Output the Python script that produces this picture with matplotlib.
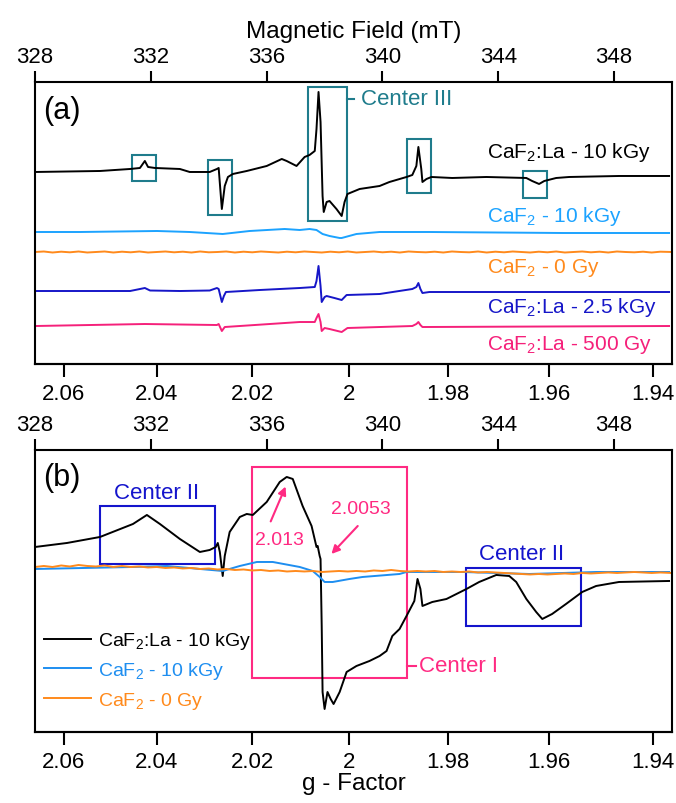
import matplotlib
matplotlib.use("Agg")
import matplotlib.pyplot as plt
from matplotlib.patches import Rectangle

plt.rcParams['font.family'] = ['Liberation Sans', 'DejaVu Sans']
plt.rcParams['mathtext.fontset'] = 'custom'
plt.rcParams['mathtext.rm'] = 'Liberation Sans'
plt.rcParams['mathtext.it'] = 'Liberation Sans'
plt.rcParams['mathtext.default'] = 'regular'

# g * B (mT) for this spectrometer frequency
G_CONST = 677.7

#*************************************************************************
#                       Panel (a) - stacked spectra (field mT, signal)
#*************************************************************************
la10k_a = [(328.00, 0), (330.24, 1), (331.28, 3), (331.62, 4), (331.79, 11), (331.90, 5),
           (332.14, 4), (333.00, 3), (333.34, 0), (334.03, 0), (334.28, 3), (334.34, 4),
           (334.45, -37), (334.55, -14), (334.66, -5), (334.83, -2), (335.31, 1), (336.00, 6),
           (336.52, 13), (336.69, 11), (337.03, 6), (337.31, 15), (337.48, 17), (337.66, 21),
           (337.72, 43), (337.79, 80), (337.86, 50), (337.93, -24), (337.97, -40), (338.07, -30),
           (338.17, -29), (338.41, -37), (338.59, -44), (338.69, -30), (338.79, -22), (339.21, -17),
           (339.90, -14), (340.24, -10), (340.83, -5), (341.03, -3), (341.17, 6), (341.24, 25),
           (341.34, 3), (341.38, -10), (341.52, -7), (341.69, -5), (342.41, -6), (343.59, -5),
           (344.97, -6), (345.17, -9), (345.41, -12), (345.59, -9), (346.00, -6), (346.45, -5),
           (348.17, -4), (349.90, -4)]
caf10k_a = [(328.00, 0), (329.55, 0), (332.21, 1), (333.34, 0), (334.48, -2), (335.41, 1),
            (336.62, 3), (337.14, 2), (337.48, 3), (337.72, 2), (337.93, -2), (338.17, -4),
            (338.52, -6), (338.59, -6), (339.10, -2), (339.90, 0), (341.62, 0), (346.21, -1),
            (349.90, -1)]
caf0_a = [(328.0, 0), (328.3, 0.5), (328.6, -0.5), (328.9, 0.3), (329.2, -0.3), (329.5, 0.5),
          (329.8, -0.5), (330.1, 0), (330.4, 0.5), (330.7, -0.5), (331.0, 0.3), (331.3, -0.3),
          (331.6, 0.5), (331.9, -0.5), (332.2, 0), (332.5, 0.5), (332.8, -0.3), (333.1, 0.3),
          (333.4, -0.5), (333.7, 0.5), (334.0, -0.3), (334.3, 0), (334.6, 0.5), (334.9, -0.5),
          (335.2, 0.3), (335.5, -0.3), (335.8, 0.5), (336.1, 0), (336.4, -0.5), (336.7, 0.3),
          (337.0, -0.3), (337.3, 0.5), (337.6, 0), (337.9, -0.5), (338.2, 0.3), (338.5, -0.3),
          (338.8, 0.5), (339.1, -0.5), (339.4, 0), (339.7, 0.5), (340.0, -0.3), (340.3, 0.3),
          (340.6, -0.5), (340.9, 0.5), (341.2, 0), (341.5, -0.3), (341.8, 0.3), (342.1, -0.5),
          (342.4, 0.5), (342.7, 0), (343.0, -0.3), (343.3, 0.5), (343.6, -0.5), (343.9, 0.3),
          (344.2, -0.3), (344.5, 0.5), (344.8, 0), (345.1, -0.5), (345.4, 0.3), (345.7, -0.3),
          (346.0, 0.5), (346.3, -0.5), (346.6, 0), (346.9, 0.5), (347.2, -0.3), (347.5, 0.3),
          (347.8, -0.5), (348.1, 0.5), (348.4, 0), (348.7, -0.3), (349.0, 0.3), (349.3, -0.5),
          (349.6, 0.3), (350.0, 0)]
la2k5_a = [(328.00, 0), (331.28, 0), (331.79, 3), (331.97, 0.5), (333.00, 0), (334.03, 0.5),
           (334.28, 3), (334.34, 2), (334.45, -11), (334.52, -5), (334.59, -1), (335.76, 1),
           (337.14, 3), (337.66, 4), (337.72, 10), (337.79, 25), (337.86, 5), (337.90, -11),
           (338.00, -6), (338.07, -5), (338.34, -7), (338.59, -9), (338.76, -4), (339.90, -3),
           (341.03, 2), (341.17, 4), (341.24, 8), (341.31, 2), (341.38, -2), (341.62, -1),
           (344.03, -1), (349.90, -1)]
la500_a = [(328.00, 0), (331.79, 2), (334.28, 1), (334.34, 2), (334.45, -5), (334.55, -1),
           (337.14, 4), (337.66, 4), (337.72, 8), (337.79, 12), (337.86, 4), (337.90, -5),
           (338.00, -2), (338.17, -3), (338.59, -6), (338.79, -2), (341.03, 0), (341.17, 2),
           (341.24, 4), (341.31, 1), (341.38, -1), (349.90, 0)]

labels_a = ['CaF$_2$:La - 10 kGy', 'CaF$_2$ - 10 kGy', 'CaF$_2$ - 0 Gy',
            'CaF$_2$:La - 2.5 kGy', 'CaF$_2$:La - 500 Gy']
offsets_a = [192, 132, 112, 73, 38]
label_y_a = [212, 148, 97, 58, 20]
colors_a = ['black', '#1CA3FF', '#FF8A1C', '#1616C8', '#F5207A']

#*************************************************************************
#                       Panel (b) - overlaid spectra
#*************************************************************************
la10k_b = [(328.00, 185), (329.10, 189), (330.24, 195), (331.38, 208), (331.86, 217), (332.31, 208),
           (333.00, 193), (333.69, 180), (334.03, 182), (334.24, 185), (334.31, 189), (334.38, 180),
           (334.48, 156), (334.55, 176), (334.72, 200), (335.07, 215), (335.31, 218), (335.52, 217),
           (336.00, 230), (336.45, 250), (336.69, 255), (336.90, 253), (337.24, 226), (337.55, 206),
           (337.72, 185), (337.76, 186), (337.83, 176), (337.86, 173), (337.90, 106), (337.93, 40),
           (338.00, 23), (338.10, 40), (338.21, 33), (338.31, 28), (338.52, 40), (338.76, 60),
           (339.10, 66), (339.55, 71), (339.90, 76), (340.14, 81), (340.34, 96), (340.59, 103),
           (340.83, 116), (341.10, 131), (341.21, 153), (341.31, 143), (341.38, 126), (341.72, 130),
           (342.21, 133), (342.90, 143), (343.34, 150), (343.93, 157), (344.38, 156), (344.62, 150),
           (344.97, 133), (345.31, 120), (345.52, 113), (345.86, 118), (346.34, 128), (346.90, 140),
           (347.38, 146), (348.17, 150), (349.90, 151)]
caf10k_b = [(328.00, 163), (331.38, 165), (332.55, 166), (333.69, 163), (334.48, 161), (335.07, 166),
            (335.66, 170), (336.21, 170), (337.14, 165), (337.59, 161), (337.83, 155), (338.00, 150),
            (338.28, 150), (338.86, 153), (339.31, 155), (340.59, 158), (340.83, 160), (342.76, 160),
            (345.07, 158), (347.38, 160), (349.90, 160)]
caf0_b = [(328.0, 165), (328.3, 166), (328.6, 165), (328.9, 166.5), (329.2, 165.5), (329.5, 167),
          (329.8, 166), (330.1, 165.5), (330.4, 166.5), (330.7, 165), (331.0, 166), (331.3, 165),
          (331.6, 165.5), (331.9, 164.5), (332.2, 165), (332.5, 164), (332.8, 164.5), (333.1, 163.5),
          (333.4, 164), (333.7, 163), (334.0, 163.5), (334.3, 162.5), (334.6, 163), (334.9, 162),
          (335.2, 162.5), (335.5, 161.5), (335.8, 162), (336.1, 161), (336.4, 161.5), (336.7, 160.5),
          (337.0, 161), (337.3, 160.5), (337.6, 161), (337.9, 160), (338.2, 160.5), (338.5, 161),
          (338.8, 160.5), (339.1, 161), (339.4, 160.5), (339.7, 161.5), (340.0, 161), (340.3, 162),
          (340.6, 161), (340.9, 160.5), (341.2, 161), (341.5, 160.5), (341.8, 161), (342.1, 160),
          (342.4, 160.5), (342.7, 160), (343.0, 160.5), (343.3, 159.5), (343.6, 160), (343.9, 159.5),
          (344.2, 159), (344.5, 158.5), (344.8, 158), (345.1, 157.5), (345.4, 158), (345.7, 157.5),
          (346.0, 158), (346.3, 158.5), (346.6, 158), (346.9, 159), (347.2, 158.5), (347.5, 159),
          (347.8, 159.5), (348.1, 159), (348.4, 159.5), (348.7, 160), (349.0, 159.5), (349.3, 159),
          (349.6, 159.5), (350.0, 159)]

labels_b = ['CaF$_2$:La - 10 kGy', 'CaF$_2$ - 10 kGy', 'CaF$_2$ - 0 Gy']
colors_b = ['black', '#1E8EF0', '#FF8A1C']

field_ticks = [328, 332, 336, 340, 344, 348]
g_ticks = [2.06, 2.04, 2.02, 2.00, 1.98, 1.96, 1.94]
g_ticklabels = ['2.06', '2.04', '2.02', '2', '1.98', '1.96', '1.94']

teal = '#1F7C8C'
navy = '#1414CC'
pink = '#FF2A82'


def b_to_g(b):
    return G_CONST / b


def g_to_b(g):
    return G_CONST / g


def style_axes(ax, top_label=None, bottom_label=None):
    ax.set_xlim(328, 350)
    ax.set_ylim(0, 282)
    ax.set_yticks([])
    for s in ax.spines.values():
        s.set_linewidth(1.5)
    ax.xaxis.tick_top()
    ax.set_xticks(field_ticks)
    ax.tick_params(axis='x', direction='out', length=8, width=1.5, labelsize=16, pad=3)
    if top_label:
        ax.xaxis.set_label_position('top')
        ax.set_xlabel(top_label, fontsize=17.5, labelpad=6)
    sec = ax.secondary_xaxis('bottom', functions=(b_to_g, g_to_b))
    sec.set_xticks(g_ticks)
    sec.set_xticklabels(g_ticklabels)
    sec.tick_params(direction='out', length=9, width=1.5, labelsize=16, pad=5)
    sec.spines['bottom'].set_linewidth(1.5)
    if bottom_label:
        sec.set_xlabel(bottom_label, fontsize=17.5, labelpad=0)
    return sec


fig = plt.figure(figsize=(6.76, 8.04), dpi=100)
axA = fig.add_axes([0.052, 0.546, 0.942, 0.3508])
axB = fig.add_axes([0.052, 0.0883, 0.942, 0.3508])

# ---------------- panel (a)
traces_a = [la10k_a, caf10k_a, caf0_a, la2k5_a, la500_a]
for tr, off, c, lab, ly in zip(traces_a, offsets_a, colors_a, labels_a, label_y_a):
    xs = [p[0] for p in tr]
    ys = [p[1] + off for p in tr]
    axA.plot(xs, ys, color=c, lw=1.4)
    axA.text(343.6, ly, lab, color=c, fontsize=15, va='center', ha='left')

boxes_a = [(331.34, 183, 0.83, 26), (333.97, 149, 0.82, 55), (337.41, 143, 1.35, 134),
           (340.86, 171, 0.83, 54), (344.86, 166, 0.83, 27)]
for (x0, y0, w, h) in boxes_a:
    axA.add_patch(Rectangle((x0, y0), w, h, fill=False, ec=teal, lw=1.5))
axA.plot([338.76, 339.0], [265, 265], color=teal, lw=1.5)
axA.text(339.25, 265, 'Center III', color=teal, fontsize=16, va='center', ha='left')
axA.text(0.013, 0.90, '(a)', transform=axA.transAxes, fontsize=22, va='center', ha='left')
style_axes(axA, top_label='Magnetic Field (mT)')

# ---------------- panel (b)
traces_b = [la10k_b, caf10k_b, caf0_b]
for tr, c, lab in zip(traces_b, colors_b, labels_b):
    xs = [p[0] for p in tr]
    ys = [p[1] for p in tr]
    axB.plot(xs, ys, color=c, lw=1.4, label=lab)

axB.add_patch(Rectangle((330.24, 168), 3.97, 58, fill=False, ec=navy, lw=1.5))
axB.text(332.2, 239, 'Center II', color=navy, fontsize=16, ha='center', va='center')
axB.add_patch(Rectangle((342.90, 106), 3.96, 58, fill=False, ec=navy, lw=1.5))
axB.text(344.8, 178, 'Center II', color=navy, fontsize=16, ha='center', va='center')
axB.add_patch(Rectangle((335.48, 54), 5.35, 211, fill=False, ec=pink, lw=1.5))
axB.plot([340.83, 341.17], [66, 66], color=pink, lw=1.5)
axB.text(341.25, 66, 'Center I', color=pink, fontsize=16, va='center', ha='left')

axB.annotate('', xy=(336.69, 248), xytext=(336.10, 208),
             arrowprops=dict(arrowstyle='-|>', color=pink, lw=1.5, mutation_scale=12))
axB.text(336.45, 192, '2.013', color=pink, fontsize=14, ha='center', va='center')
axB.annotate('', xy=(338.17, 176), xytext=(339.21, 208),
             arrowprops=dict(arrowstyle='-|>', color=pink, lw=1.5, mutation_scale=12))
axB.text(339.24, 223, '2.0053', color=pink, fontsize=14, ha='center', va='center')

axB.text(0.013, 0.904, '(b)', transform=axB.transAxes, fontsize=22, va='center', ha='left')
axB.legend(loc='upper left', bbox_to_anchor=(0.014, 0.36), frameon=False, fontsize=14,
           handlelength=2.4, handletextpad=0.35, labelspacing=0.45, borderpad=0,
           borderaxespad=0, labelcolor='linecolor')
style_axes(axB, bottom_label='g - Factor')

fig.savefig('out.png', dpi=100)
